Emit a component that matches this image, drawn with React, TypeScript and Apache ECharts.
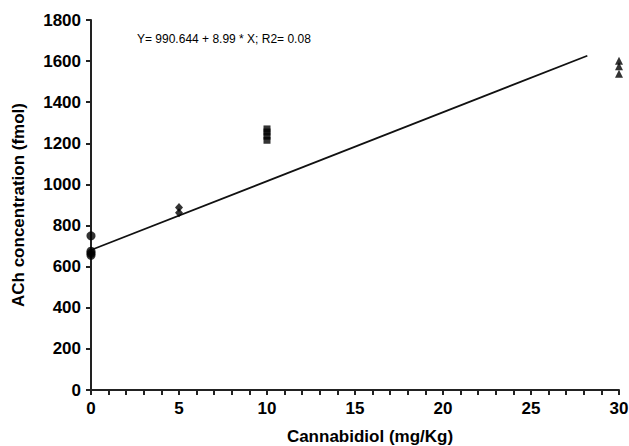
import React, { useEffect, useRef } from "react";
import * as echarts from "echarts";

const circlePts: [number, number][] = [[0, 750], [0, 675], [0, 665], [0, 655]];
const diamondPts: [number, number][] = [[5, 888], [5, 862]];
const squarePts: [number, number][] = [[10, 1270], [10, 1255], [10, 1235], [10, 1215]];
const trianglePts: [number, number][] = [[30, 1602], [30, 1575], [30, 1538]];
const fitLine: [number, number][] = [[0, 681], [28.2, 1626]];
const equationText = "Y= 990.644 + 8.99 * X; R2= 0.08";
const xTitle = "Cannabidiol (mg/Kg)";
const yTitle = "ACh concentration (fmol)";

export default function App() {
  const ref = useRef<HTMLDivElement>(null);
  useEffect(() => {
    if (!ref.current) return;
    const chart = echarts.init(ref.current, null, { renderer: "svg" });
    const font = "Liberation Sans, Arial, sans-serif";
    const axisCommon = {
      axisLine: { show: true, lineStyle: { color: "#222", width: 2 } },
      axisTick: { show: true, length: 5, lineStyle: { color: "#222", width: 2 } },
      splitLine: { show: false },
      axisLabel: {
        color: "#000",
        fontSize: 17,
        fontWeight: "bold",
        fontFamily: font,
        formatter: (v: number) => String(v),
      },
    };
    const scatterStyle = { color: "#000" };
    chart.setOption({
      animation: false,
      backgroundColor: "#fff",
      grid: { left: 91, right: 10, top: 20, bottom: 56, containLabel: false, outerBoundsMode: "none" },
      xAxis: {
        type: "value",
        min: 0,
        max: 30,
        interval: 5,
        ...axisCommon,
        axisLabel: { ...axisCommon.axisLabel, margin: 10 },
        minorTick: { show: true, splitNumber: 5, length: 5, lineStyle: { color: "#222", width: 2 } },
        name: xTitle,
        nameLocation: "middle",
        nameGap: 38,
        nameTextStyle: { color: "#000", fontSize: 17, fontWeight: "bold", fontFamily: font, padding: [0, 0, 0, 30] },
      },
      yAxis: {
        type: "value",
        min: 0,
        max: 1800,
        interval: 200,
        ...axisCommon,
        axisLabel: { ...axisCommon.axisLabel, margin: 10 },
        name: yTitle,
        nameLocation: "middle",
        nameGap: 64,
        nameTextStyle: { color: "#000", fontSize: 17, fontWeight: "bold", fontFamily: font },
      },
      graphic: [
        {
          type: "text",
          left: 137,
          top: 33,
          style: { text: equationText, fontSize: 12, fill: "#000", fontFamily: font },
        },
      ],
      series: [
        {
          type: "line",
          data: fitLine,
          symbol: "none",
          lineStyle: { color: "#111", width: 1.8 },
          z: 1,
        },
        { type: "scatter", data: circlePts, symbol: "circle", symbolSize: 9, itemStyle: scatterStyle, z: 3 },
        { type: "scatter", data: diamondPts, symbol: "diamond", symbolSize: [8, 9], itemStyle: scatterStyle, z: 3 },
        { type: "scatter", data: squarePts, symbol: "rect", symbolSize: 7, itemStyle: scatterStyle, z: 3 },
        { type: "scatter", data: trianglePts, symbol: "triangle", symbolSize: 8, itemStyle: scatterStyle, z: 3 },
      ],
    });
    return () => chart.dispose();
  }, []);
  return <div ref={ref} style={{ width: 629, height: 446, position: "absolute", left: 0, top: 0 }} />;
}
